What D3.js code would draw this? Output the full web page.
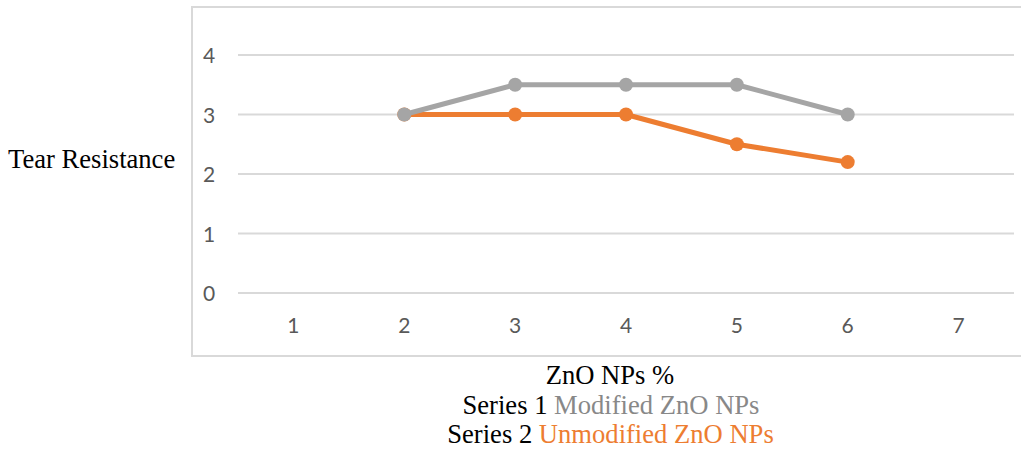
<!DOCTYPE html>
<html><head><meta charset="utf-8">
<script src="https://cdn.jsdelivr.net/npm/d3@7/dist/d3.min.js"></script>
<style>body{margin:0;background:#fff;}svg{display:block;}</style>
</head><body>
<svg id="c" width="1021" height="452"></svg>
<script>
const categories = ["1","2","3","4","5","6","7"];
const series1 = [null,3,3.5,3.5,3.5,3,null];
const series2 = [null,3,3,3,2.5,2.2,null];
const yTicks = [0,1,2,3,4];
const seriesNames = ["Modified ZnO NPs","Unmodified ZnO NPs"];

const svg = d3.select("#c");
const x = d3.scaleBand().domain(categories).range([238,1014]);
const y = d3.scaleLinear().domain([0,4]).range([293,55]);

// outer box
svg.append("rect").attr("x",192).attr("y",7).attr("width",840).attr("height",349)
  .attr("fill","none").attr("stroke","#d9d9d9").attr("stroke-width",2);

// grid
svg.append("g").selectAll("line").data(yTicks).join("line")
  .attr("x1",238).attr("x2",1014).attr("y1",d=>y(d)).attr("y2",d=>y(d))
  .attr("stroke","#d9d9d9").attr("stroke-width",2);

const tickFont = "Lato, 'Open Sans', sans-serif";
svg.append("g").selectAll("text").data(yTicks).join("text")
  .attr("x",209).attr("y",d=>y(d)+8).attr("text-anchor","middle")
  .attr("font-family",tickFont).attr("font-size",21).attr("fill","#595959").text(d=>d);

svg.append("g").selectAll("text").data(categories).join("text")
  .attr("x",d=>x(d)+x.bandwidth()/2).attr("y",333).attr("text-anchor","middle")
  .attr("font-family",tickFont).attr("font-size",21).attr("fill","#595959").text(d=>d);

function drawSeries(vals,color){
  const pts = categories.map((c,i)=>({c,v:vals[i]})).filter(d=>d.v!=null);
  const line = d3.line().x(d=>x(d.c)+x.bandwidth()/2).y(d=>y(d.v));
  svg.append("path").datum(pts).attr("d",line).attr("fill","none")
    .attr("stroke",color).attr("stroke-width",5).attr("stroke-linejoin","round");
  svg.append("g").selectAll("circle").data(pts).join("circle")
    .attr("cx",d=>x(d.c)+x.bandwidth()/2).attr("cy",d=>y(d.v)).attr("r",7).attr("fill",color);
}
drawSeries(series2,"#ED7D31");
drawSeries(series1,"#A5A5A5");

const serif = "'Liberation Serif','Times New Roman',serif";
const fs = 26.6;
svg.append("text").attr("x",8).attr("y",168).attr("font-family",serif).attr("font-size",fs)
  .attr("fill","#000").text("Tear Resistance");
svg.append("text").attr("x",610).attr("y",384).attr("text-anchor","middle").attr("font-family",serif)
  .attr("font-size",fs).attr("fill","#000").text("ZnO NPs %");
const l1 = svg.append("text").attr("x",611).attr("y",414).attr("text-anchor","middle").attr("font-family",serif).attr("font-size",fs);
l1.append("tspan").attr("fill","#000").text("Series 1 ");
l1.append("tspan").attr("fill","#888888").text(seriesNames[0]);
const l2 = svg.append("text").attr("x",610.5).attr("y",443).attr("text-anchor","middle").attr("font-family",serif).attr("font-size",fs);
l2.append("tspan").attr("fill","#000").text("Series 2 ");
l2.append("tspan").attr("fill","#ED7D31").text(seriesNames[1]);
</script>
</body></html>
